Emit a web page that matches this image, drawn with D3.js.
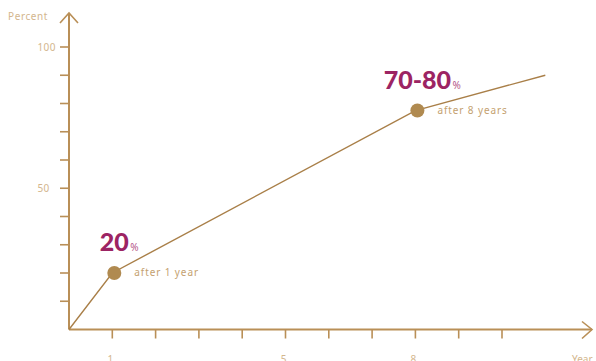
<!DOCTYPE html>
<html>
<head>
<meta charset="utf-8">
<script src="https://cdn.jsdelivr.net/npm/d3@7"></script>
<style>
  html, body { margin: 0; padding: 0; background: #fff; }
  svg { display: block; }
</style>
</head>
<body>
<div id="chart"></div>
<script>
// curve points (year, percent)
var years = [0, 1, 8, 11];
var percents = [0, 20, 77.5, 90];

// tick positions and which of them get a label
var xTicks = [1, 2, 3, 4, 5, 6, 7, 8, 9, 10];
var xTickLabels = [1, 5, 8];
var yTicks = [10, 20, 30, 40, 50, 60, 70, 80, 90, 100];
var yTickLabels = [50, 100];

// highlighted points
var callouts = [
  {year: 1, value: 20, big: "20", small: "after 1 year"},
  {year: 8, value: 77.5, big: "70-80", small: "after 8 years"}
];

var width = 596, height = 361;
var axisColor = "#b98f57";
var labelColor = "#d3b68d";
var accent = "#9c2463";

var svg = d3.select("#chart")
    .append("svg")
    .attr("width", width)
    .attr("height", height);

var x = d3.scaleLinear().domain([0, 10]).range([69, 502]);
var y = d3.scaleLinear().domain([0, 100]).range([329.5, 47]);

var x0 = x(0), y0 = y(0);

// axes lines
svg.append("line")
    .attr("x1", x0).attr("y1", y0)
    .attr("x2", x0).attr("y2", 13)
    .attr("stroke", axisColor).attr("stroke-width", 2);

svg.append("line")
    .attr("x1", x0).attr("y1", y0)
    .attr("x2", 592).attr("y2", y0)
    .attr("stroke", axisColor).attr("stroke-width", 2);

// arrow heads
svg.append("path")
    .attr("d", "M" + (x0 - 9) + ",23L" + x0 + ",13L" + (x0 + 9) + ",23")
    .attr("fill", "none").attr("stroke", axisColor).attr("stroke-width", 1.6);

svg.append("path")
    .attr("d", "M582," + (y0 - 8) + "L592," + y0 + "L582," + (y0 + 9))
    .attr("fill", "none").attr("stroke", axisColor).attr("stroke-width", 1.6);

// ticks
svg.selectAll(".xtick")
    .data(xTicks)
    .enter().append("line")
    .attr("x1", function(d){ return x(d); })
    .attr("x2", function(d){ return x(d); })
    .attr("y1", y0).attr("y2", y0 + 9)
    .attr("stroke", axisColor).attr("stroke-width", 1.6);

svg.selectAll(".ytick")
    .data(yTicks)
    .enter().append("line")
    .attr("x1", x0 - 9).attr("x2", x0)
    .attr("y1", function(d){ return y(d); })
    .attr("y2", function(d){ return y(d); })
    .attr("stroke", axisColor).attr("stroke-width", 1.6);

// tick labels (cut by the bottom edge, as in the original)
svg.selectAll(".xlab")
    .data(xTickLabels)
    .enter().append("text")
    .attr("x", function(d){ return x(d) - 2; })
    .attr("y", 363)
    .attr("text-anchor", "middle")
    .attr("font-family", "Noto Sans, sans-serif")
    .attr("font-size", 10)
    .attr("fill", labelColor)
    .text(function(d){ return d; });

svg.selectAll(".ylab")
    .data(yTickLabels)
    .enter().append("text")
    .attr("x", 37.5)
    .attr("y", function(d){ return y(d) + 3.5; })
    .attr("font-family", "Noto Sans, sans-serif")
    .attr("font-size", 10)
    .attr("letter-spacing", 0.4)
    .attr("fill", labelColor)
    .text(function(d){ return d; });

svg.append("text")
    .attr("x", 8).attr("y", 20)
    .attr("font-family", "Noto Sans, sans-serif")
    .attr("font-size", 10)
    .attr("letter-spacing", 0.6)
    .attr("fill", labelColor)
    .text("Percent");

svg.append("text")
    .attr("x", 572).attr("y", 363)
    .attr("font-family", "Noto Sans, sans-serif")
    .attr("font-size", 10)
    .attr("fill", labelColor)
    .text("Year");

// the curve
var line = d3.line()
    .x(function(d){ return x(d[0]); })
    .y(function(d){ return y(d[1]); });

svg.append("path")
    .datum(d3.zip(years, percents))
    .attr("d", line)
    .attr("fill", "none")
    .attr("stroke", "#a97f48")
    .attr("stroke-width", 1.4);

// dots and callouts
var g = svg.selectAll(".callout")
    .data(callouts)
    .enter().append("g");

g.append("circle")
    .attr("cx", function(d){ return x(d.year) + 2; })
    .attr("cy", function(d){ return y(d.value); })
    .attr("r", 7)
    .attr("fill", "#b08a50");

// big number centred over the dot, small % right after it
g.each(function(d){
    var grp = d3.select(this);
    var cx = x(d.year) + 2;
    var by = y(d.value) - 22;
    var t = grp.append("text")
        .attr("x", cx)
        .attr("y", by)
        .attr("text-anchor", "middle")
        .attr("font-family", "Lato, sans-serif")
        .attr("font-weight", 900)
        .attr("font-size", 25)
        .attr("fill", accent)
        .text(d.big);
    var w = t.node().getComputedTextLength();
    grp.append("text")
        .attr("x", cx + w / 2 + 1.5)
        .attr("y", by)
        .attr("font-family", "Noto Sans, sans-serif")
        .attr("font-size", 10)
        .attr("fill", "#b5578a")
        .text("%");
});

g.append("text")
    .attr("x", function(d){ return x(d.year) + 22; })
    .attr("y", function(d){ return y(d.value) + 3; })
    .attr("font-family", "Noto Sans, sans-serif")
    .attr("font-size", 10)
    .attr("letter-spacing", 0.9)
    .attr("fill", "#c4a16f")
    .text(function(d){ return d.small; });
</script>
</body>
</html>
